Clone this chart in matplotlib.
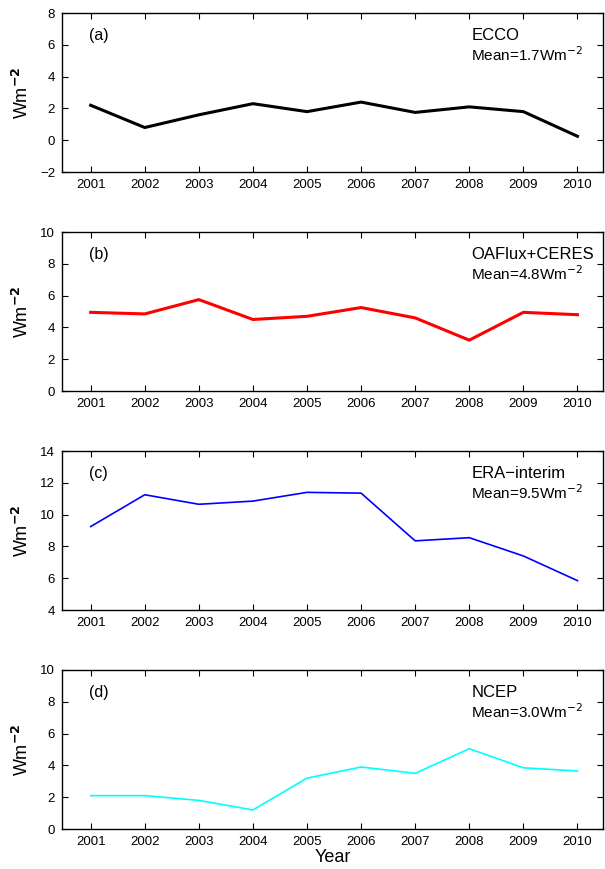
import numpy as np
import matplotlib
matplotlib.use("Agg")
import matplotlib.pyplot as plt

plt.rcParams['font.family'] = ['Liberation Sans', 'DejaVu Sans']

years = np.arange(2001, 2011)
ecco = [2.2, 0.8, 1.6, 2.3, 1.8, 2.4, 1.75, 2.1, 1.8, 0.25]
oaflux = [4.95, 4.85, 5.75, 4.5, 4.7, 5.25, 4.6, 3.2, 4.95, 4.8]
era = [9.25, 11.25, 10.65, 10.85, 11.4, 11.35, 8.35, 8.55, 7.4, 5.85]
ncep = [2.1, 2.1, 1.8, 1.2, 3.2, 3.9, 3.5, 5.05, 3.85, 3.65]

series = [ecco, oaflux, era, ncep]
names = ['ECCO', 'OAFlux+CERES', 'ERA\u2212interim', 'NCEP']
means = ['1.7', '4.8', '9.5', '3.0']
tags = ['(a)', '(b)', '(c)', '(d)']
colors = ['k', '#ff0000', '#0000ff', '#00ffff']
widths = [2.2, 2.2, 1.2, 1.2]
ylims = [(-2, 8), (0, 10), (4, 14), (0, 10)]

fig = plt.figure(figsize=(6.05, 8.69), dpi=100)
bottoms = [0.802, 0.550, 0.298, 0.046]

for i in range(4):
    ax = fig.add_axes([0.1025, bottoms[i], 0.894, 0.183])
    ax.plot(years, series[i], color=colors[i], lw=widths[i])
    ax.set_xlim(2000.47, 2010.47)
    ax.set_ylim(*ylims[i])
    ax.set_xticks(years)
    yt = np.arange(ylims[i][0], ylims[i][1] + 1, 2)
    ax.set_yticks(yt)
    ax.set_yticklabels([str(v).replace('-', '\u2212') for v in yt])
    ax.tick_params(direction='in', top=True, right=True, length=4, width=0.8, labelsize=9.5, pad=5)
    for sp in ax.spines.values():
        sp.set_linewidth(1.0)
    ax.set_ylabel(r'Wm$^{\mathbf{-2}}$', fontsize=13, labelpad=6)
    ax.text(0.05, 0.86, tags[i], transform=ax.transAxes, fontsize=11.5, va='center')
    ax.text(0.757, 0.86, names[i], transform=ax.transAxes, fontsize=12, va='center')
    ax.text(0.757, 0.74, 'Mean=' + means[i] + r'Wm$^{-2}$', transform=ax.transAxes,
            fontsize=11, va='center')
    if i == 3:
        ax.set_xlabel('Year', fontsize=13, labelpad=1)

fig.savefig('out.png', dpi=100)
